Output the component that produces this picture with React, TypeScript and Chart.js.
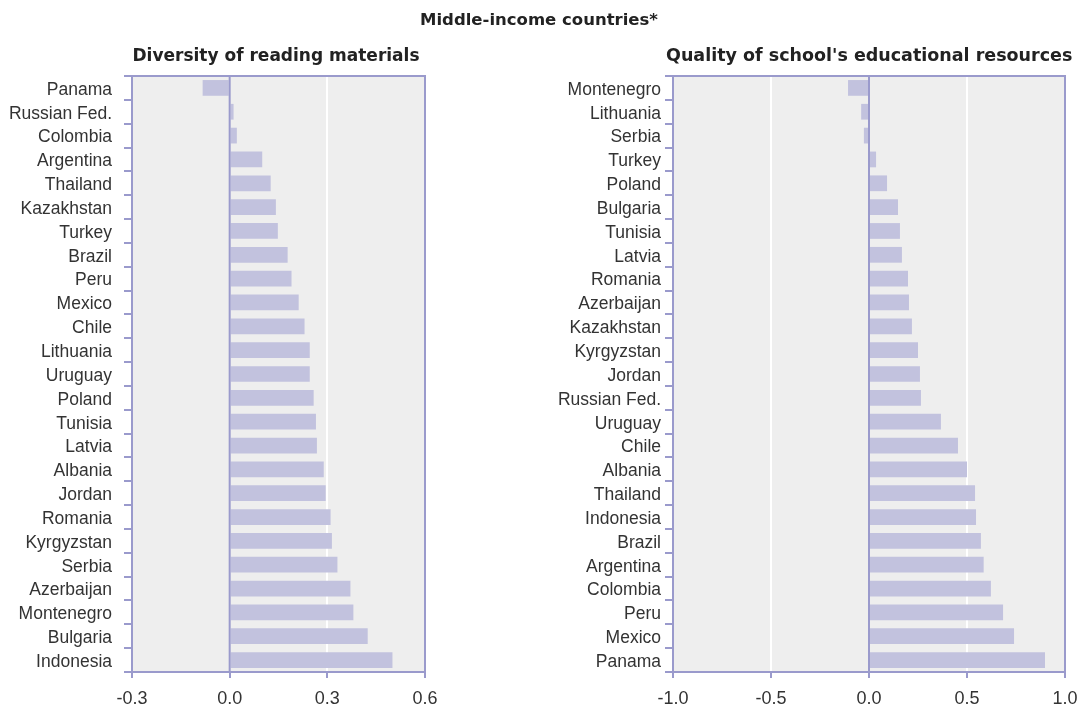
import React, { useEffect, useRef } from 'react';
import { Chart, registerables } from 'chart.js';
Chart.register(...registerables);

const readingCountries = ['Panama', 'Russian Fed.', 'Colombia', 'Argentina', 'Thailand', 'Kazakhstan', 'Turkey', 'Brazil', 'Peru', 'Mexico', 'Chile', 'Lithuania', 'Uruguay', 'Poland', 'Tunisia', 'Latvia', 'Albania', 'Jordan', 'Romania', 'Kyrgyzstan', 'Serbia', 'Azerbaijan', 'Montenegro', 'Bulgaria', 'Indonesia'];
const readingValues = [-0.083, 0.012, 0.022, 0.10, 0.126, 0.142, 0.148, 0.178, 0.19, 0.212, 0.23, 0.246, 0.246, 0.258, 0.265, 0.268, 0.289, 0.295, 0.31, 0.314, 0.331, 0.371, 0.38, 0.424, 0.50];
const readingTicks = [-0.3, 0, 0.3, 0.6];

const resourceCountries = ['Montenegro', 'Lithuania', 'Serbia', 'Turkey', 'Poland', 'Bulgaria', 'Tunisia', 'Latvia', 'Romania', 'Azerbaijan', 'Kazakhstan', 'Kyrgyzstan', 'Jordan', 'Russian Fed.', 'Uruguay', 'Chile', 'Albania', 'Thailand', 'Indonesia', 'Brazil', 'Argentina', 'Colombia', 'Peru', 'Mexico', 'Panama'];
const resourceValues = [-0.107, -0.04, -0.026, 0.036, 0.092, 0.148, 0.158, 0.168, 0.199, 0.204, 0.219, 0.25, 0.26, 0.265, 0.367, 0.454, 0.50, 0.541, 0.546, 0.571, 0.585, 0.622, 0.684, 0.74, 0.898];
const resourceTicks = [-1, -0.5, 0, 0.5, 1];

const mainTitle = 'Middle-income countries*';
const readingTitle = 'Diversity of reading materials';
const resourceTitle = "Quality of school's educational resources";

const AXIS = '#9a9acc';
const BAR = '#c2c2de';
const BG = '#eeeeee';
const TEXT = '#333333';
const FONT = '"Liberation Sans", Arial, sans-serif';
const TITLE_FONT = '"DejaVu Sans", sans-serif';

const framePlugin = {
  id: 'frame',
  beforeDraw(chart: any) {
    const { ctx, chartArea: a } = chart;
    ctx.save();
    ctx.fillStyle = BG;
    ctx.fillRect(a.left, a.top, a.right - a.left, a.bottom - a.top);
    ctx.restore();
  },
  afterDatasetsDraw(chart: any) {
    const { ctx, chartArea: a } = chart;
    const x0 = chart.scales.x.getPixelForValue(0);
    ctx.save();
    ctx.strokeStyle = AXIS;
    ctx.lineWidth = 2;
    ctx.beginPath();
    ctx.moveTo(x0, a.top);
    ctx.lineTo(x0, a.bottom);
    ctx.stroke();
    ctx.strokeRect(a.left, a.top, a.right - a.left, a.bottom - a.top);
    ctx.restore();
  },
};

function BarChart(props: { labels: string[]; values: number[]; ticks: number[]; width: number; yWidth: number; rightPad: number; labelPad: number }) {
  const ref = useRef<HTMLCanvasElement>(null);
  useEffect(() => {
    const { labels, values, ticks, yWidth, rightPad, labelPad } = props;
    const min = ticks[0];
    const max = ticks[ticks.length - 1];
    const chart = new Chart(ref.current!, {
      type: 'bar',
      data: {
        labels,
        datasets: [{ data: values, backgroundColor: BAR, borderWidth: 0, barPercentage: 0.66, categoryPercentage: 1 }],
      },
      options: {
        indexAxis: 'y',
        responsive: false,
        animation: false,
        layout: { padding: { top: 76, right: rightPad, bottom: 0, left: 0 } },
        plugins: { legend: { display: false }, tooltip: { enabled: false }, title: { display: false } },
        scales: {
          x: {
            min,
            max,
            afterBuildTicks: (s: any) => { s.ticks = ticks.map((v) => ({ value: v })); },
            afterFit: (s: any) => { s.height = 37; },
            border: { display: false },
            grid: {
              color: (c: any) => {
                const v = c.tick ? c.tick.value : 0;
                return v === 0 || v === min || v === max ? 'rgba(0,0,0,0)' : '#ffffff';
              },
              lineWidth: 2,
              tickColor: AXIS,
              tickWidth: 2,
              tickLength: 6,
            },
            ticks: {
              padding: 10,
              color: TEXT,
              font: { family: FONT, size: 18 },
              maxRotation: 0,
              callback: (v: any) => Number(v).toFixed(1),
            },
          },
          y: {
            afterFit: (s: any) => { s.width = yWidth; },
            border: { display: false },
            grid: {
              drawOnChartArea: false,
              drawTicks: true,
              tickLength: 8,
              tickColor: AXIS,
              tickWidth: 2,
              lineWidth: 2,
              offset: true,
            },
            ticks: {
              padding: labelPad,
              labelOffset: 2,
              color: TEXT,
              font: { family: FONT, size: 17.5 },
              autoSkip: false,
            },
          },
        },
      },
      plugins: [framePlugin],
    } as any);
    return () => chart.destroy();
  }, []);
  return <canvas ref={ref} width={props.width} height={709} style={{ display: 'block', width: props.width, height: 709 }} />;
}

export default function App() {
  const titleStyle: React.CSSProperties = {
    position: 'absolute',
    fontFamily: TITLE_FONT,
    fontWeight: 'bold',
    color: '#222',
    textAlign: 'center',
    whiteSpace: 'nowrap',
    lineHeight: '20px',
  };
  return (
    <div style={{ position: 'absolute', left: 0, top: 0, width: 1078, height: 709, background: '#fff', overflow: 'hidden' }}>
      <div style={{ position: 'absolute', left: 0, top: 0 }}>
        <BarChart labels={readingCountries} values={readingValues} ticks={readingTicks} width={539} yWidth={132} rightPad={114} labelPad={12} />
      </div>
      <div style={{ position: 'absolute', left: 539, top: 0 }}>
        <BarChart labels={resourceCountries} values={resourceValues} ticks={resourceTicks} width={570} yWidth={134} rightPad={44} labelPad={4} />
      </div>
      <div style={{ ...titleStyle, left: 0, width: 1078, top: 10, fontSize: 16.5 }}>{mainTitle}</div>
      <div style={{ ...titleStyle, left: 76, width: 400, top: 45, fontSize: 17 }}>{readingTitle}</div>
      <div style={{ ...titleStyle, left: 666, width: 400, top: 45, fontSize: 17.5 }}>{resourceTitle}</div>
    </div>
  );
}
